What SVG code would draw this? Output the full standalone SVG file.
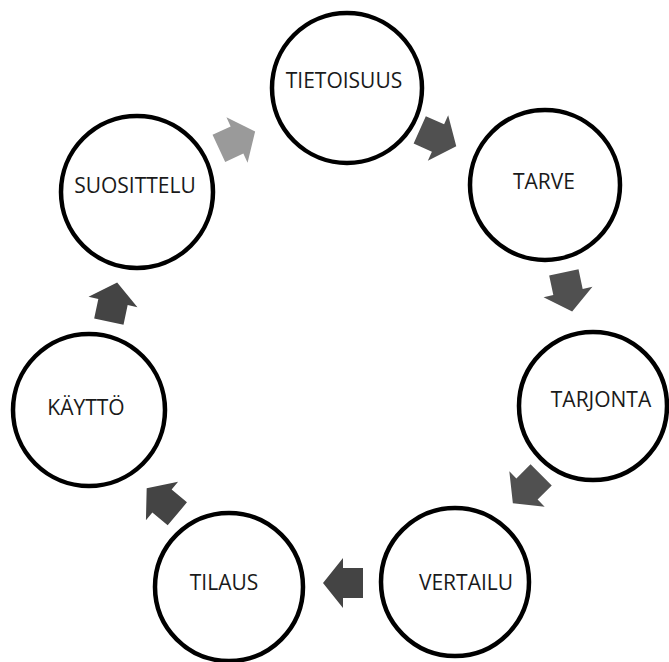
<svg xmlns="http://www.w3.org/2000/svg" width="669" height="662" viewBox="0 0 669 662">
<defs>
<style>
.node circle{fill:#fff;stroke:#000;stroke-width:4.5}
.node text{font-family:"Open Sans","DejaVu Sans",sans-serif;font-size:21px;fill:#1a1a1a;text-anchor:middle}
.arr{fill:#505050}
.arr.light{fill:#9a9a9a}
.arr.dark{fill:#444}
</style>
<path id="blk" d="M20,0 L0,-25 L0,-15 L-20,-15 L-20,15 L0,15 L0,25 Z"/>
</defs>
<rect width="669" height="662" fill="#fff"/>
<g id="connectors">
<use href="#blk" class="arr light" transform="translate(237,140) rotate(-25)"/>
<use href="#blk" class="arr" transform="translate(438,138) rotate(24)"/>
<use href="#blk" class="arr" transform="translate(568,292) rotate(78)"/>
<use href="#blk" class="arr" transform="translate(527,489) rotate(135)"/>
<use href="#blk" class="arr dark" transform="translate(343,583) rotate(180)"/>
<use href="#blk" class="arr dark" transform="translate(162,501) rotate(-140)"/>
<use href="#blk" class="arr dark" transform="translate(113,302) rotate(-78)"/>
</g>
<g id="tietoisuus" class="node"><circle cx="347" cy="88" r="75"/><text x="344" y="88">TIETOISUUS</text></g>
<g id="tarve" class="node"><circle cx="545" cy="185" r="75"/><text x="544" y="189">TARVE</text></g>
<g id="tarjonta" class="node"><circle cx="593" cy="406" r="74"/><text x="601" y="407">TARJONTA</text></g>
<g id="vertailu" class="node"><circle cx="455" cy="582" r="74"/><text x="466" y="590">VERTAILU</text></g>
<g id="tilaus" class="node"><circle cx="229" cy="587" r="74"/><text x="224" y="590">TILAUS</text></g>
<g id="kaytto" class="node"><circle cx="89" cy="410" r="76"/><text x="86" y="415">KÄYTTÖ</text></g>
<g id="suosittelu" class="node"><circle cx="137" cy="192" r="76"/><text x="135" y="193">SUOSITTELU</text></g>
</svg>
